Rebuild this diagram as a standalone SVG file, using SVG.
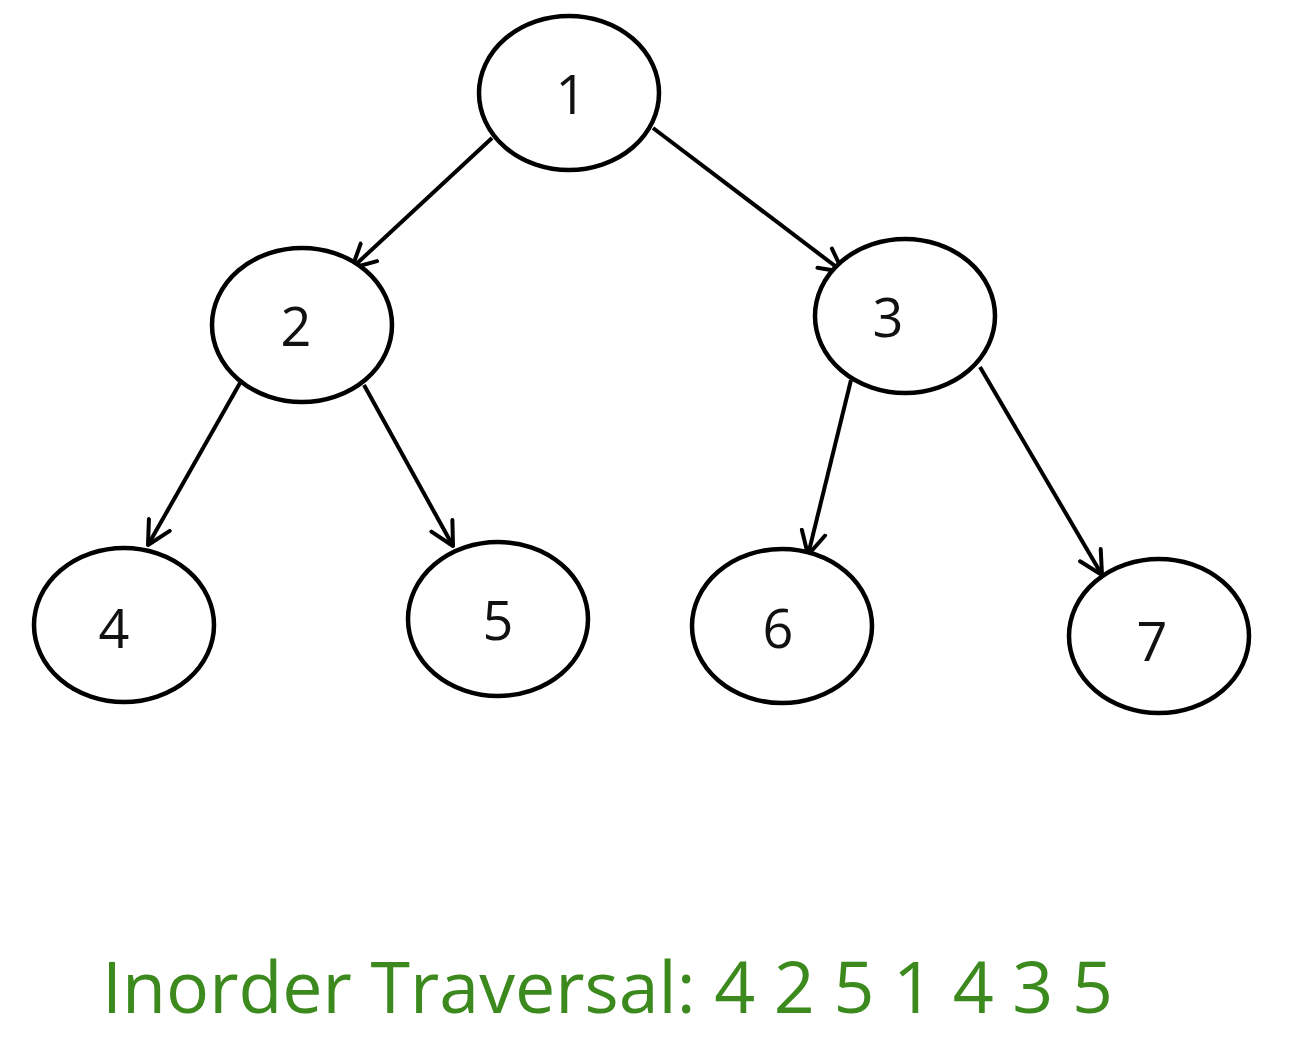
<svg xmlns="http://www.w3.org/2000/svg" width="1292" height="1048" viewBox="0 0 1292 1048">
<style>
.node ellipse{fill:#fff;stroke:#000;stroke-width:4.5}
.node text{font-family:"Open Sans","Liberation Sans",sans-serif;font-size:54px;fill:#111;text-anchor:middle;dominant-baseline:central}
.edge{stroke:#000;stroke-width:4;fill:none;marker-end:url(#arr)}
.caption{font-family:"Open Sans","Liberation Sans",sans-serif;font-size:72px;fill:#3c8a1e}
</style>
<defs>
<marker id="arr" markerUnits="userSpaceOnUse" markerWidth="34" markerHeight="34" refX="25" refY="14" orient="auto" viewBox="0 0 34 28">
<path d="M2,2 L25,14 L2,26" fill="none" stroke="#000" stroke-width="4" stroke-linecap="round" stroke-linejoin="round"/>
</marker>
</defs>
<rect width="1292" height="1048" fill="#fff"/>
<g id="connectors">
<line class="edge" x1="492" y1="138" x2="352" y2="268"/>
<line class="edge" x1="653" y1="128" x2="843" y2="272"/>
<line class="edge" x1="240" y1="383" x2="148" y2="545"/>
<line class="edge" x1="364" y1="385" x2="453" y2="546"/>
<line class="edge" x1="851" y1="380" x2="808" y2="555"/>
<line class="edge" x1="980" y1="367" x2="1102" y2="575"/>
</g>
<g id="node1" class="node"><ellipse cx="569" cy="93" rx="90" ry="77"/><text x="571" y="93">1</text></g>
<g id="node2" class="node"><ellipse cx="302" cy="325" rx="90" ry="77"/><text x="296" y="325">2</text></g>
<g id="node3" class="node"><ellipse cx="905" cy="316" rx="90" ry="77"/><text x="888" y="316">3</text></g>
<g id="node4" class="node"><ellipse cx="124" cy="625" rx="90" ry="77"/><text x="114" y="627">4</text></g>
<g id="node5" class="node"><ellipse cx="498" cy="619" rx="90" ry="77"/><text x="498" y="619">5</text></g>
<g id="node6" class="node"><ellipse cx="782" cy="626" rx="90" ry="77"/><text x="778" y="627">6</text></g>
<g id="node7" class="node"><ellipse cx="1159" cy="636" rx="90" ry="77"/><text x="1152" y="640">7</text></g>
<text class="caption" x="102" y="1013" textLength="1011" lengthAdjust="spacingAndGlyphs">Inorder Traversal: 4 2 5 1 4 3 5</text>
</svg>
